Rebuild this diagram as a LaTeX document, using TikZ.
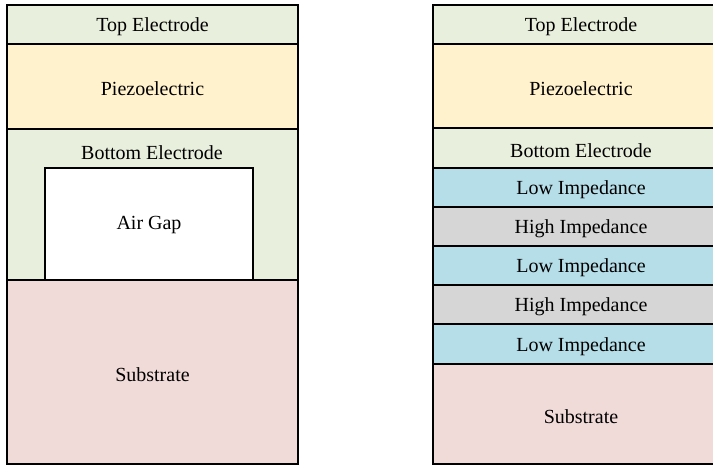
\documentclass[tikz,border=0pt]{standalone}
\usepackage{fontspec}
\setmainfont{Liberation Serif}
\definecolor{electrode}{RGB}{233,239,221}
\definecolor{piezo}{RGB}{255,242,204}
\definecolor{substrate}{RGB}{241,219,217}
\definecolor{lowz}{RGB}{182,222,232}
\definecolor{highz}{RGB}{214,214,214}
\tikzset{
  layer/.style={draw=black, line width=1.8pt, rectangle, inner sep=0pt},
  label text/.style={font=\fontsize{20}{23}\selectfont, text=black, inner sep=0pt, yshift=-2.5pt},
}
% layer box from two corners (x in px, y in px downward)
\newcommand{\layerbox}[6]{%
  \node[layer, fill=#2, minimum width={(#5-#3)*1pt}, minimum height={(#6-#4)*1pt}]
    (#1) at ({(#3+#5)/2},{(#4+#6)/2}) {};}
\begin{document}
\begin{tikzpicture}[x=1pt, y=-1pt]
\useasboundingbox (0,0) rectangle (713,465);

% ---- FBAR stack (air-gap type) ----
\layerbox{lbe}{electrode}{7}{129}{298}{280}
\node[label text] (lbetxt) at (152,150) {Bottom Electrode};
\layerbox{lgap}{white}{45}{168}{253}{280}
\node[label text] (lgaptxt) at (149,223) {Air Gap};
\layerbox{lsub}{substrate}{7}{280}{298}{464}
\node[label text] (lsubtxt) at (lsub.center) {Substrate};
\layerbox{lpz}{piezo}{7}{44}{298}{129}
\node[label text] (lpztxt) at (lpz.center) {Piezoelectric};
\layerbox{lte}{electrode}{7}{5}{298}{44}
\node[label text] (ltetxt) at (lte.center) {Top Electrode};

% ---- SMR stack (Bragg reflector type) ----
\layerbox{rsub}{substrate}{433}{364}{729}{464}
\node[label text] (rsubtxt) at (rsub.center) {Substrate};
\layerbox{rl3}{lowz}{433}{324}{729}{364}
\node[label text] (rl3txt) at (rl3.center) {Low Impedance};
\layerbox{rh2}{highz}{433}{285}{729}{324}
\node[label text] (rh2txt) at (rh2.center) {High Impedance};
\layerbox{rl2}{lowz}{433}{246}{729}{285}
\node[label text] (rl2txt) at (rl2.center) {Low Impedance};
\layerbox{rh1}{highz}{433}{207}{729}{246}
\node[label text] (rh1txt) at (rh1.center) {High Impedance};
\layerbox{rl1}{lowz}{433}{168}{729}{207}
\node[label text] (rl1txt) at (rl1.center) {Low Impedance};
\layerbox{rbe}{electrode}{433}{128}{729}{168}
\node[label text] (rbetxt) at (rbe.center) {Bottom Electrode};
\layerbox{rpz}{piezo}{433}{44}{729}{128}
\node[label text] (rpztxt) at (rpz.center) {Piezoelectric};
\layerbox{rte}{electrode}{433}{5}{729}{44}
\node[label text] (rtetxt) at (rte.center) {Top Electrode};
\end{tikzpicture}
\end{document}
